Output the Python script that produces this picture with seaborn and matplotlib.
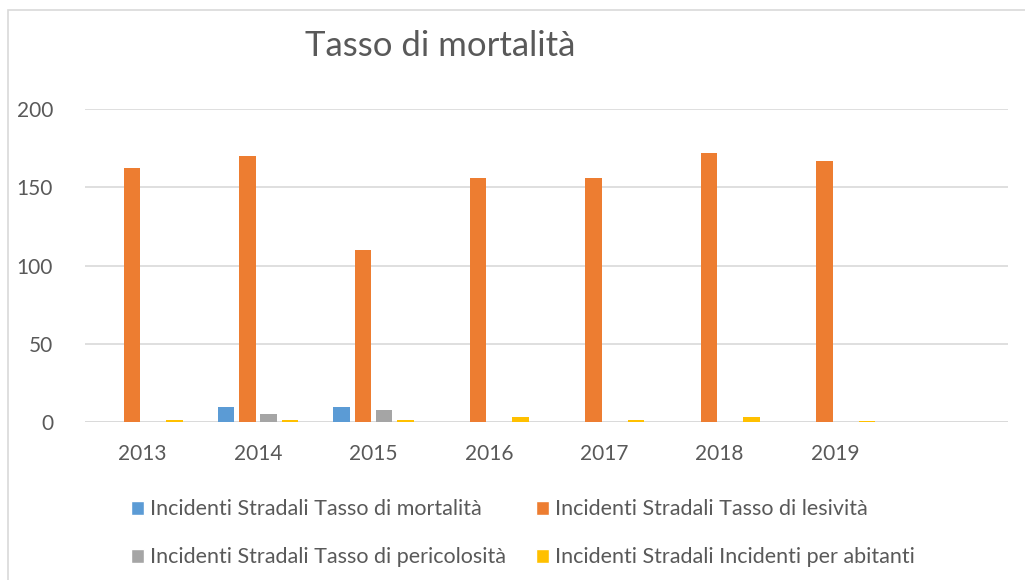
import pandas as pd
import seaborn as sns
import matplotlib.pyplot as plt
from matplotlib.patches import Patch, Rectangle

# values
anni = ['2013', '2014', '2015', '2016', '2017', '2018', '2019']
serie = ['Incidenti Stradali Tasso di mortalità',
         'Incidenti Stradali Tasso di lesività',
         'Incidenti Stradali Tasso di pericolosità',
         'Incidenti Stradali Incidenti per abitanti']
mortalita = [0, 9.6, 9.6, 0, 0, 0, 0]
lesivita = [162.4, 170.1, 110.1, 155.6, 155.6, 172.2, 166.7]
pericolosita = [0, 5.2, 7.9, 0, 0, 0, 0]
abitanti = [1.1, 1.5, 1.5, 3.2, 1.1, 3.2, 0.5]
colori = ['#5B9BD5', '#ED7D31', '#A5A5A5', '#FFC000']

df = pd.DataFrame({'anno': anni, serie[0]: mortalita, serie[1]: lesivita,
                   serie[2]: pericolosita, serie[3]: abitanti})
df = df.melt(id_vars='anno', var_name='serie', value_name='valore')

sns.set_theme(style='white')
plt.rcParams['font.family'] = ['Lato', 'DejaVu Sans']
testo = '#595959'

fig = plt.figure(figsize=(10.25, 5.8), dpi=100)
ax = fig.add_axes([85 / 1025, 1 - 422 / 580, (1008 - 85) / 1025, (422 - 109) / 580])

sns.barplot(data=df, x='anno', y='valore', hue='serie', hue_order=serie,
            palette=colori, saturation=1, width=0.736, gap=0.22, linewidth=0,
            legend=False, ax=ax, zorder=3)

ax.set_xlim(-0.5, 7.5)
ax.set_ylim(0, 200)
ax.set_yticks([0, 50, 100, 150, 200])
ax.yaxis.grid(True, color='#D9D9D9', linewidth=1.2, zorder=0)
ax.axhline(0, color='#D9D9D9', linewidth=1.2, zorder=1)
for s in ax.spines.values():
    s.set_visible(False)
ax.tick_params(axis='y', length=0, pad=23, labelsize=15, labelcolor=testo)
ax.tick_params(axis='x', length=0, pad=16, labelsize=15, labelcolor=testo)
ax.set_xlabel('')
ax.set_ylabel('')

fig.text(305 / 1025, 1 - 46 / 580, 'Tasso di mortalità', fontsize=25,
         color=testo, ha='left', va='center')

# legend: row 1 mortalità / lesività, row 2 pericolosità / abitanti
ordine = [0, 2, 1, 3]
handles = [Patch(facecolor=colori[i]) for i in ordine]
labels = [serie[i] for i in ordine]
fig.legend(handles, labels, ncol=2, frameon=False, fontsize=15.5,
           labelcolor=testo, handlelength=0.6, handleheight=0.6,
           handletextpad=0.28, columnspacing=1.4, labelspacing=1.3,
           loc='upper left', bbox_to_anchor=(112 / 1025, 1 - 480 / 580))

# chart border
fig.patches.append(Rectangle((8 / 1025, -0.1), 1.1, 1 - 10 / 580 + 0.1,
                             transform=fig.transFigure, fill=False,
                             edgecolor='#D9D9D9', linewidth=1.2))

fig.savefig('out.png', dpi=100)
